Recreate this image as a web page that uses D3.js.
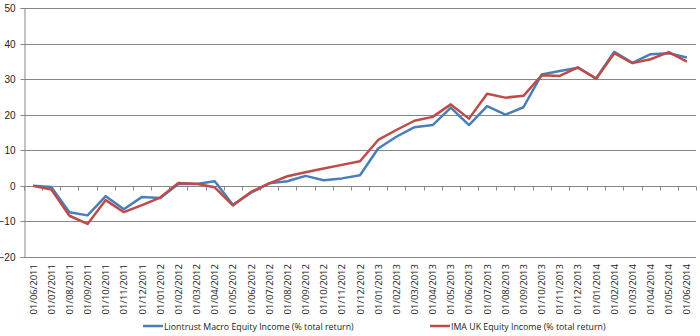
<!DOCTYPE html>
<html>
<head>
<meta charset="utf-8">
<script src="https://cdn.jsdelivr.net/npm/d3@7"></script>
<style>
  html, body { margin: 0; padding: 0; background: #fff; }
  svg { display: block; font-family: "Open Sans", "Liberation Sans", sans-serif; }
</style>
</head>
<body>
<svg id="chart" width="700" height="336"></svg>
<script>
// Monthly observation dates
const dates = [
  "01/06/2011","01/07/2011","01/08/2011","01/09/2011","01/10/2011","01/11/2011","01/12/2011",
  "01/01/2012","01/02/2012","01/03/2012","01/04/2012","01/05/2012","01/06/2012","01/07/2012",
  "01/08/2012","01/09/2012","01/10/2012","01/11/2012","01/12/2012","01/01/2013","01/02/2013",
  "01/03/2013","01/04/2013","01/05/2013","01/06/2013","01/07/2013","01/08/2013","01/09/2013",
  "01/10/2013","01/11/2013","01/12/2013","01/01/2014","01/02/2014","01/03/2014","01/04/2014",
  "01/05/2014","01/06/2014"
];

// Cumulative % total return
const liontrust = [
  0, -0.3, -7.4, -8.3, -2.9, -6.6, -3.1, -3.4, 0.5, 0.5, 1.3, -5.3, -1.9, 0.7,
  1.3, 2.8, 1.6, 2.1, 3.0, 10.5, 13.8, 16.5, 17.1, 22.0, 17.1, 22.4, 20.0, 22.1,
  31.3, 32.3, 33.2, 30.2, 37.7, 34.6, 37.0, 37.3, 36.1
];
const imaUK = [
  0, -1.0, -8.4, -10.7, -4.0, -7.4, -5.4, -3.3, 0.8, 0.6, -0.4, -5.5, -1.7, 0.7,
  2.7, 3.8, 4.9, 5.9, 6.9, 12.9, 15.7, 18.3, 19.4, 22.9, 18.9, 25.9, 24.8, 25.3,
  31.1, 30.9, 33.3, 30.1, 37.3, 34.5, 35.6, 37.6, 34.9
];

const seriesNames = [
  "Liontrust Macro Equity Income (% total return)",
  "IMA UK Equity Income (% total return)"
];
const yTicks = [-20, -10, 0, 10, 20, 30, 40, 50];

const series = [
  { name: seriesNames[0], values: liontrust, color: "#4a7ebb" },
  { name: seriesNames[1], values: imaUK, color: "#be4b48" }
];

const svg = d3.select("#chart");
const plotLeft = 24, plotRight = 696, plotTop = 8, plotBottom = 257;

const x = d3.scaleBand().domain(dates).range([plotLeft, plotRight]).paddingInner(0).paddingOuter(0);
const y = d3.scaleLinear().domain([-20, 50]).range([plotBottom, plotTop]);
const cx = d => x(d) + x.bandwidth() / 2;

// Horizontal gridlines
svg.append("g")
  .selectAll("line")
  .data(yTicks)
  .join("line")
  .attr("x1", plotLeft).attr("x2", plotRight)
  .attr("y1", d => Math.round(y(d)) + 0.5).attr("y2", d => Math.round(y(d)) + 0.5)
  .attr("stroke", "#878787").attr("stroke-width", 1);

// Vertical axis with labels
const yAxis = svg.append("g")
  .attr("transform", `translate(${plotLeft + 0.5},0)`)
  .call(d3.axisLeft(y).tickValues(yTicks).tickSize(4).tickPadding(5).tickFormat(d3.format("d")));
yAxis.select(".domain").attr("stroke", "#878787");
yAxis.selectAll(".tick line").attr("stroke", "#878787");
yAxis.selectAll(".tick text").attr("font-size", 10).attr("fill", "#222");
yAxis.selectAll(".tick").attr("transform", d => `translate(0,${Math.round(y(d)) + 0.5})`);

// Category tick marks on the zero line
const y0 = Math.round(y(0)) + 0.5;
const bounds = dates.map(d => x(d)).concat([plotRight]);
svg.append("g")
  .selectAll("line")
  .data(bounds)
  .join("line")
  .attr("x1", d => Math.round(d) + 0.5).attr("x2", d => Math.round(d) + 0.5)
  .attr("y1", y0).attr("y2", y0 + 4)
  .attr("stroke", "#878787");

// Rotated date labels along the bottom
svg.append("g")
  .selectAll("text")
  .data(dates)
  .join("text")
  .attr("transform", d => `translate(${cx(d) + 3.5},${plotBottom + 7}) rotate(-90)`)
  .attr("text-anchor", "end")
  .attr("font-size", 9.5)
  .attr("fill", "#222")
  .text(d => d);

// Lines
const line = d3.line().x((v, i) => cx(dates[i])).y(v => y(v));
svg.append("g")
  .selectAll("path")
  .data(series)
  .join("path")
  .attr("d", s => line(s.values))
  .attr("fill", "none")
  .attr("stroke", s => s.color)
  .attr("stroke-width", 2.5)
  .attr("stroke-linejoin", "round");

// Legend
const legendX = [143, 430];
const legend = svg.append("g")
  .selectAll("g")
  .data(series)
  .join("g")
  .attr("transform", (s, i) => `translate(${legendX[i]},326)`);
legend.append("line")
  .attr("x1", 0).attr("x2", 20).attr("y1", 0).attr("y2", 0)
  .attr("stroke", s => s.color).attr("stroke-width", 2.5);
legend.append("text")
  .attr("x", 21).attr("y", 3.5)
  .attr("font-size", 8.8)
  .attr("fill", "#222")
  .text(s => s.name);
</script>
</body>
</html>
